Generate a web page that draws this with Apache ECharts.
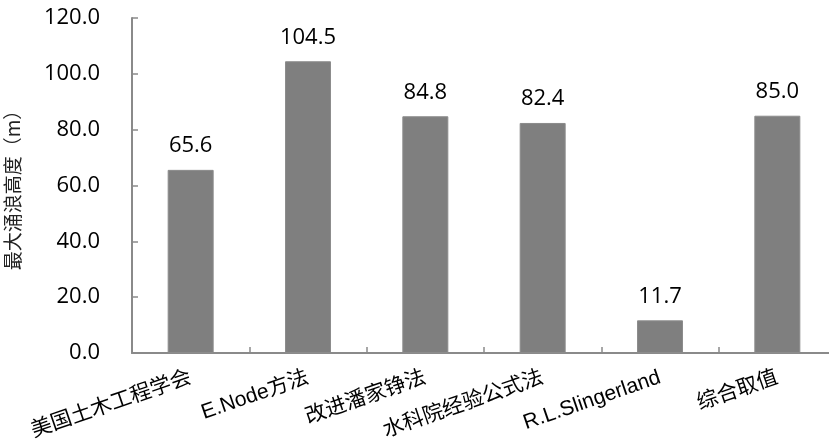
<!DOCTYPE html>
<html>
<head>
<meta charset="utf-8">
<script src="https://cdn.jsdelivr.net/npm/echarts@6/dist/echarts.min.js"></script>
<style>
  html, body { margin: 0; padding: 0; background: #fff; }
  #chart { width: 829px; height: 447px; }
</style>
</head>
<body>
<div id="chart"></div>
<script>
// Methods compared and the maximum surge height each one gives (m)
const categories = ['美国土木工程学会', 'E.Node方法', '改进潘家铮法', '水科院经验公式法', 'R.L.Slingerland', '综合取值'];
const heights = [65.6, 104.5, 84.8, 82.4, 11.7, 85.0];
const yTicks = { min: 0, max: 120, interval: 20 };
const yAxisTitle = '最大涌浪高度（m）';

const chart = echarts.init(document.getElementById('chart'));
const axisGray = '#8a8a8a';

chart.setOption({
  animation: false,
  // plot area runs slightly past the right edge of the canvas
  grid: { left: 132, width: 704, top: 18, height: 335, containLabel: false, outerBoundsMode: 'none' },
  xAxis: {
    type: 'category',
    data: categories,
    axisLine: { lineStyle: { color: axisGray, width: 2 } },
    axisTick: { show: true, inside: true, length: 6, alignWithLabel: false, lineStyle: { color: axisGray, width: 1.5 } },
    axisLabel: {
      rotate: 19,
      interval: 0,
      margin: 24,
      color: '#000',
      fontSize: 21,
      fontFamily: '"Liberation Sans", "Noto Sans CJK SC", sans-serif'
    }
  },
  yAxis: {
    type: 'value',
    min: yTicks.min,
    max: yTicks.max,
    interval: yTicks.interval,
    name: yAxisTitle,
    nameLocation: 'middle',
    nameRotate: 90,
    nameGap: 110,
    nameTextStyle: { fontSize: 19, color: '#222', fontFamily: '"Noto Sans CJK SC", sans-serif' },
    splitLine: { show: false },
    axisLine: { show: true, lineStyle: { color: axisGray, width: 2 } },
    axisTick: { show: true, inside: true, length: 6, lineStyle: { color: axisGray, width: 1.5 } },
    axisLabel: {
      margin: 32,
      color: '#000',
      fontSize: 22,
      fontFamily: '"Open Sans", sans-serif',
      formatter: v => v.toFixed(1)
    }
  },
  series: [{
    type: 'bar',
    data: heights,
    barWidth: 46,
    itemStyle: { color: '#7f7f7f', borderColor: '#8c8c8c', borderWidth: 1 },
    label: {
      show: true,
      position: 'top',
      distance: 13,
      color: '#000',
      fontSize: 22,
      fontFamily: '"Open Sans", sans-serif',
      formatter: p => p.value.toFixed(1)
    }
  }]
});
</script>
</body>
</html>
